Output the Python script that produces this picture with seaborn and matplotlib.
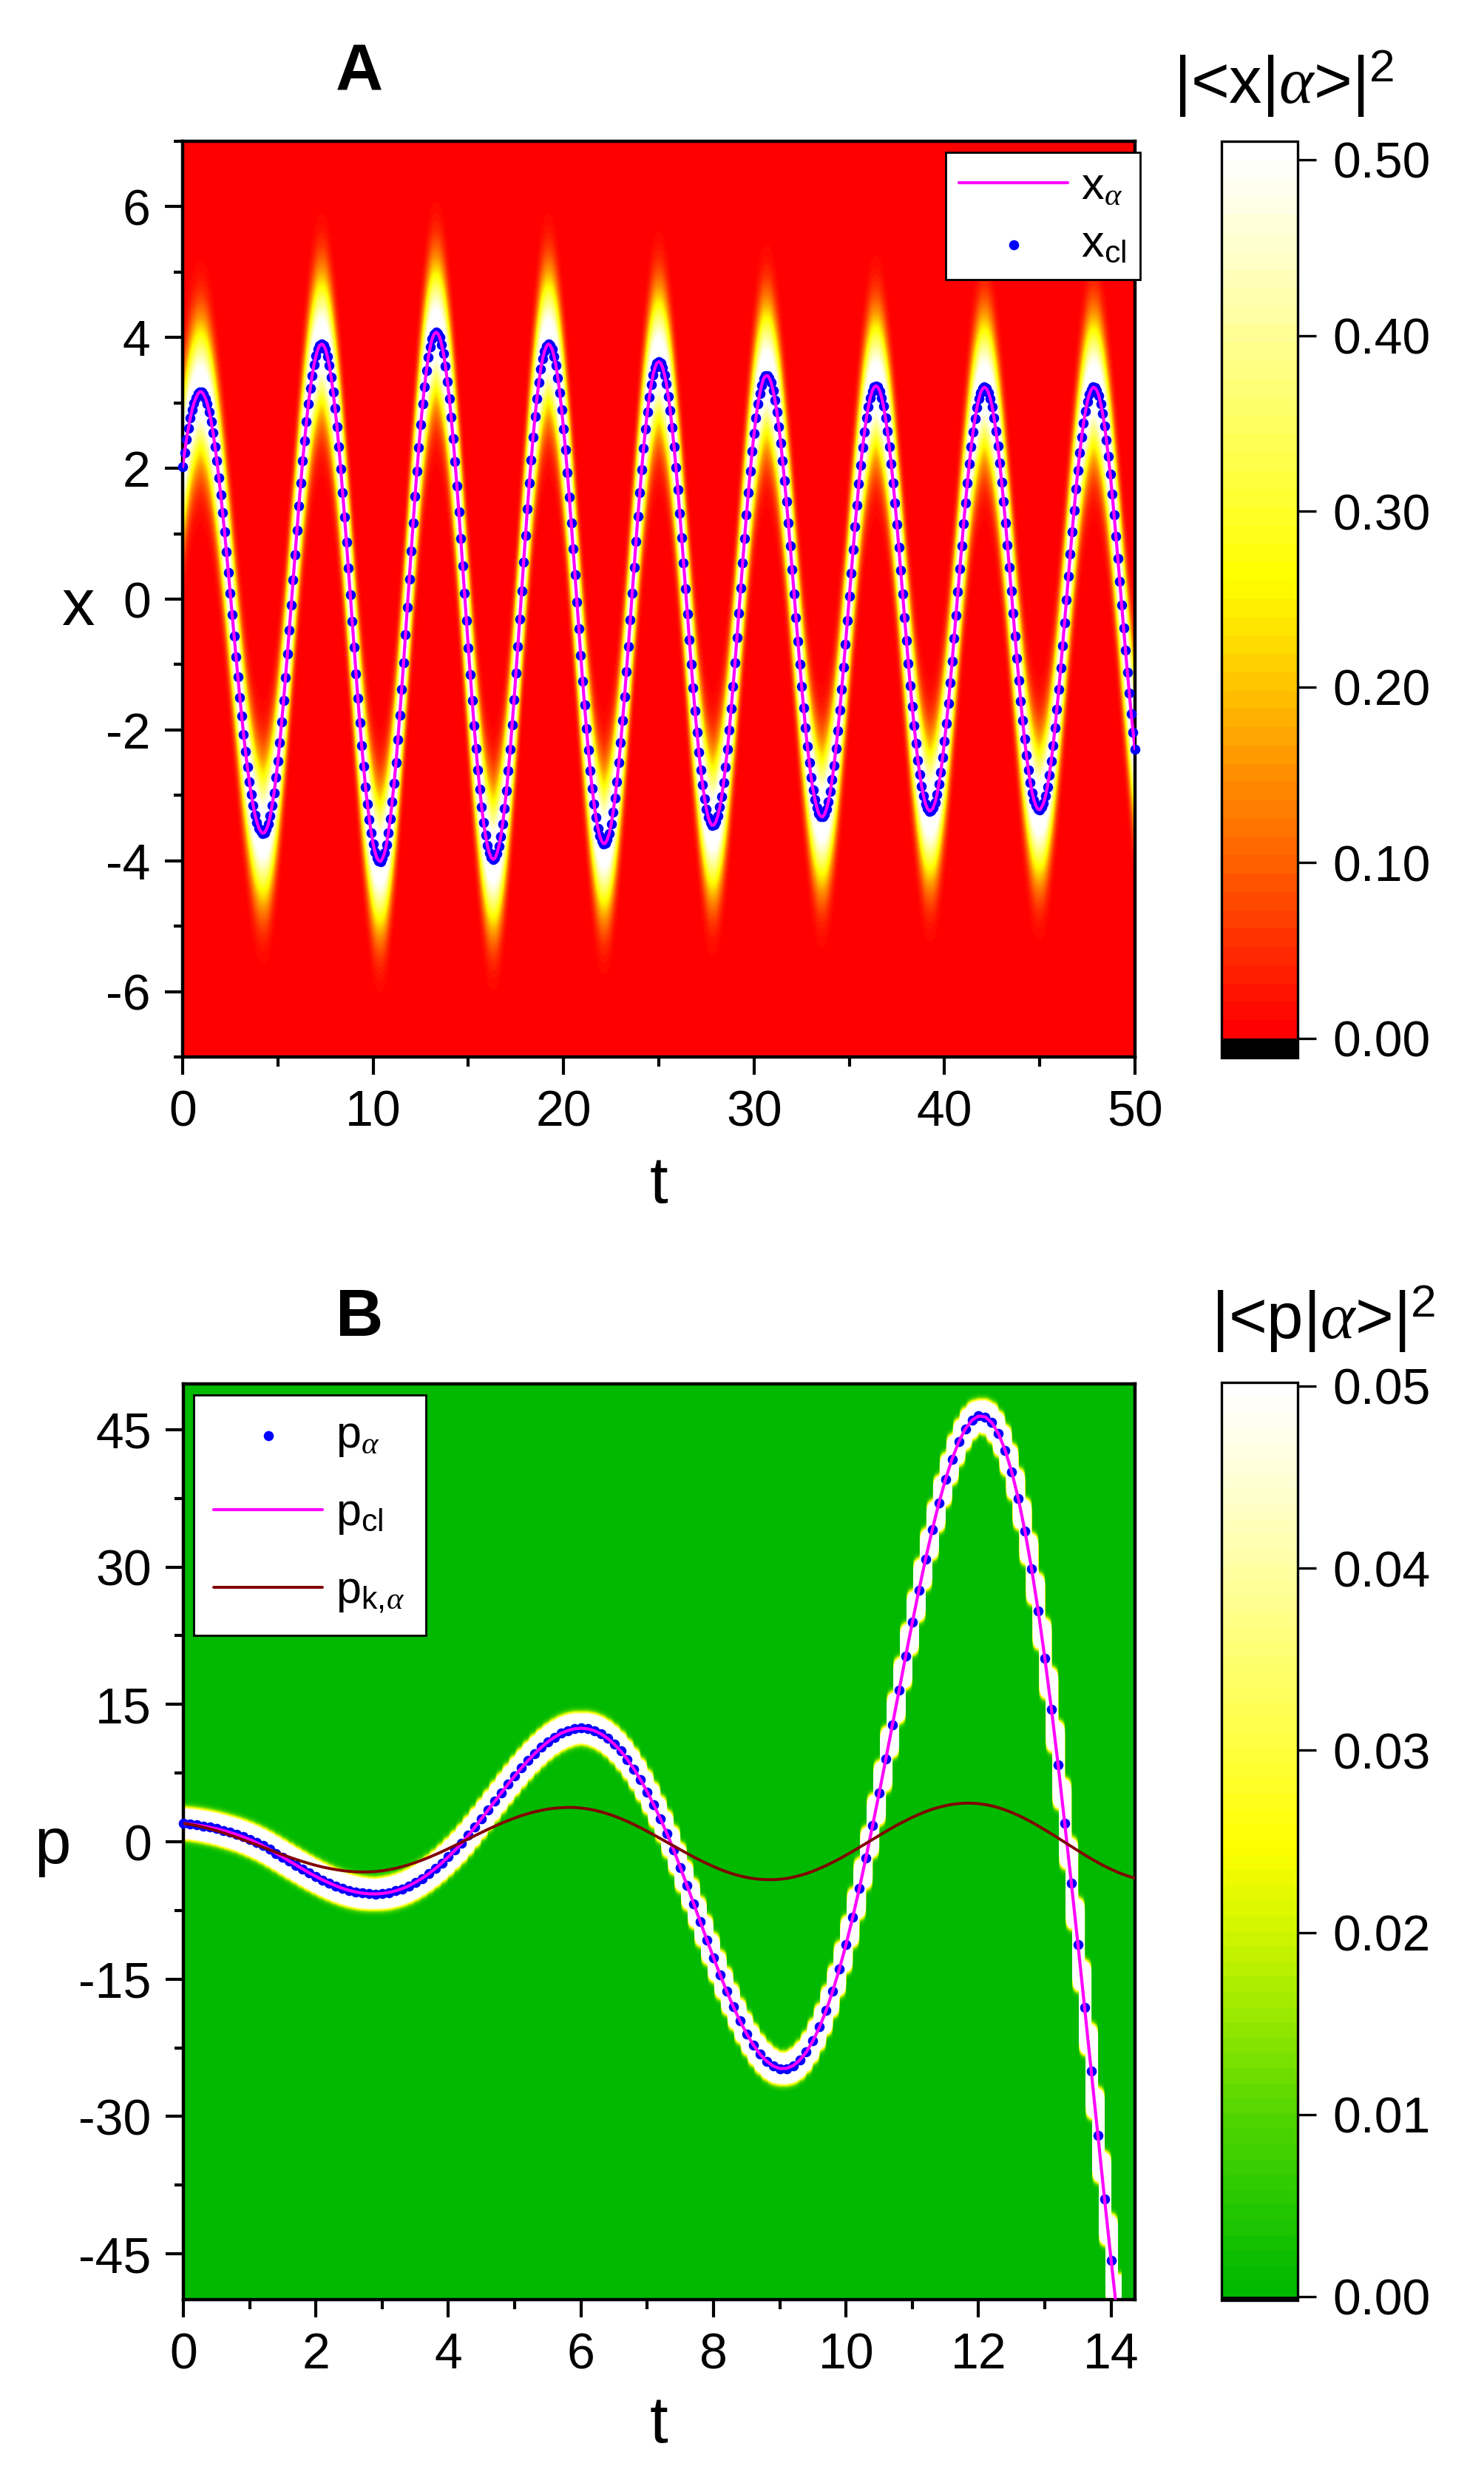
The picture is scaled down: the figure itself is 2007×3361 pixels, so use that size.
# plot.py
# wave packet densities |<x|a>|^2 and |<p|a>|^2 with the classical paths on top
import numpy as np
import pandas as pd
import seaborn as sns
import matplotlib
matplotlib.use("Agg")
import matplotlib.pyplot as plt
from matplotlib.colors import LinearSegmentedColormap, ListedColormap, Normalize
from matplotlib.ticker import MultipleLocator, FormatStrFormatter

#%% data
# panel A: one sample every 0.1 in t, from t = 0 to t = 50
T_STEP = 0.1
X_CL = [
    2.02, 2.24, 2.44, 2.61, 2.77, 2.90, 3.00, 3.08, 3.14, 3.17,
    3.17, 3.13, 3.07, 2.98, 2.86, 2.71, 2.54, 2.33, 2.11, 1.86,
    1.60, 1.32, 1.03, 0.72, 0.41, 0.09, -0.24, -0.56, -0.88, -1.19,
    -1.50, -1.79, -2.07, -2.33, -2.57, -2.79, -2.98, -3.15, -3.30, -3.41,
    -3.50, -3.55, -3.58, -3.57, -3.52, -3.44, -3.31, -3.15, -2.96, -2.73,
    -2.48, -2.19, -1.88, -1.55, -1.20, -0.84, -0.47, -0.09, 0.29, 0.68,
    1.05, 1.42, 1.77, 2.11, 2.42, 2.71, 2.98, 3.22, 3.42, 3.59,
    3.72, 3.82, 3.88, 3.90, 3.88, 3.82, 3.71, 3.57, 3.39, 3.17,
    2.92, 2.64, 2.33, 1.99, 1.63, 1.26, 0.87, 0.47, 0.07, -0.34,
    -0.74, -1.14, -1.52, -1.89, -2.24, -2.56, -2.87, -3.13, -3.37, -3.57,
    -3.74, -3.87, -3.96, -4.00, -4.01, -3.96, -3.88, -3.75, -3.57, -3.36,
    -3.10, -2.82, -2.50, -2.15, -1.77, -1.38, -0.97, -0.54, -0.12, 0.31,
    0.74, 1.16, 1.57, 1.96, 2.32, 2.67, 2.98, 3.25, 3.50, 3.70,
    3.86, 3.98, 4.05, 4.08, 4.06, 4.00, 3.89, 3.75, 3.56, 3.33,
    3.07, 2.78, 2.45, 2.10, 1.73, 1.33, 0.93, 0.51, 0.09, -0.33,
    -0.75, -1.15, -1.55, -1.93, -2.28, -2.61, -2.91, -3.18, -3.42, -3.61,
    -3.77, -3.88, -3.95, -3.98, -3.96, -3.89, -3.78, -3.63, -3.44, -3.20,
    -2.93, -2.62, -2.29, -1.92, -1.54, -1.13, -0.72, -0.30, 0.13, 0.56,
    0.97, 1.38, 1.77, 2.13, 2.48, 2.79, 3.07, 3.31, 3.52, 3.68,
    3.79, 3.87, 3.90, 3.88, 3.82, 3.71, 3.57, 3.38, 3.15, 2.89,
    2.60, 2.28, 1.93, 1.56, 1.17, 0.77, 0.37, -0.04, -0.45, -0.86,
    -1.25, -1.62, -1.98, -2.31, -2.62, -2.89, -3.13, -3.34, -3.50, -3.62,
    -3.70, -3.74, -3.73, -3.67, -3.58, -3.44, -3.26, -3.04, -2.79, -2.50,
    -2.19, -1.85, -1.49, -1.11, -0.72, -0.32, 0.09, 0.49, 0.88, 1.27,
    1.63, 1.98, 2.31, 2.60, 2.86, 3.09, 3.28, 3.43, 3.54, 3.61,
    3.63, 3.61, 3.54, 3.43, 3.29, 3.10, 2.88, 2.62, 2.33, 2.01,
    1.67, 1.31, 0.94, 0.55, 0.16, -0.23, -0.62, -1.00, -1.36, -1.71,
    -2.03, -2.34, -2.61, -2.84, -3.05, -3.21, -3.34, -3.42, -3.46, -3.45,
    -3.40, -3.31, -3.18, -3.02, -2.81, -2.57, -2.30, -2.00, -1.67, -1.33,
    -0.97, -0.59, -0.21, 0.17, 0.55, 0.93, 1.29, 1.63, 1.96, 2.26,
    2.53, 2.77, 2.98, 3.14, 3.27, 3.37, 3.41, 3.42, 3.38, 3.31,
    3.19, 3.04, 2.86, 2.64, 2.39, 2.11, 1.81, 1.49, 1.16, 0.81,
    0.45, 0.08, -0.28, -0.64, -1.00, -1.34, -1.66, -1.97, -2.25, -2.50,
    -2.73, -2.92, -3.07, -3.19, -3.28, -3.32, -3.33, -3.29, -3.21, -3.10,
    -2.94, -2.76, -2.54, -2.28, -2.01, -1.70, -1.38, -1.04, -0.69, -0.33,
    0.04, 0.40, 0.76, 1.11, 1.44, 1.76, 2.05, 2.32, 2.56, 2.77,
    2.94, 3.08, 3.18, 3.24, 3.26, 3.24, 3.18, 3.08, 2.95, 2.77,
    2.57, 2.33, 2.07, 1.78, 1.47, 1.14, 0.79, 0.44, 0.08, -0.28,
    -0.63, -0.98, -1.32, -1.64, -1.93, -2.21, -2.46, -2.68, -2.86, -3.01,
    -3.13, -3.20, -3.24, -3.23, -3.19, -3.11, -2.99, -2.83, -2.65, -2.42,
    -2.17, -1.90, -1.60, -1.28, -0.95, -0.60, -0.25, 0.11, 0.46, 0.81,
    1.15, 1.47, 1.78, 2.07, 2.33, 2.56, 2.76, 2.93, 3.06, 3.16,
    3.22, 3.24, 3.22, 3.16, 3.07, 2.94, 2.77, 2.57, 2.34, 2.08,
    1.79, 1.49, 1.17, 0.83, 0.49, 0.13, -0.22, -0.57, -0.91, -1.24,
    -1.56, -1.86, -2.14, -2.39, -2.61, -2.80, -2.96, -3.08, -3.16, -3.21,
    -3.22, -3.18, -3.12, -3.01, -2.87, -2.69, -2.48, -2.24, -1.97, -1.68,
    -1.38, -1.05, -0.71, -0.36, -0.01, 0.35, 0.69, 1.03, 1.36, 1.68,
    1.97, 2.24, 2.48, 2.69, 2.87, 3.02, 3.13, 3.20, 3.24, 3.23,
    3.19, 3.11, 2.99, 2.84, 2.65, 2.43, 2.18, 1.91, 1.61, 1.29,
    0.96, 0.62, 0.27, -0.09, -0.44, -0.78, -1.12, -1.44, -1.75, -2.03,
    -2.29,
]
# the quantum mean x_alpha sits exactly on the classical path
X_ALPHA = X_CL

# panel B: one sample every 0.1 in t, from t = 0
P_ALPHA = [
    2.00, 1.93, 1.84, 1.72, 1.58, 1.42, 1.23, 1.02, 0.80, 0.54,
    0.25, -0.07, -0.43, -0.83, -1.26, -1.69, -2.13, -2.56, -2.99, -3.40,
    -3.79, -4.16, -4.50, -4.81, -5.08, -5.31, -5.48, -5.61, -5.68, -5.70,
    -5.65, -5.54, -5.36, -5.13, -4.82, -4.44, -4.00, -3.50, -2.94, -2.32,
    -1.64, -0.92, -0.16, 0.70, 1.60, 2.53, 3.47, 4.42, 5.36, 6.29,
    7.19, 8.05, 8.86, 9.62, 10.30, 10.91, 11.42, 11.84, 12.14, 12.33,
    12.40, 12.33, 12.13, 11.79, 11.30, 10.67, 9.90, 8.99, 7.94, 6.75,
    5.44, 4.01, 2.48, 0.85, -0.92, -2.82, -4.77, -6.75, -8.74, -10.72,
    -12.66, -14.54, -16.34, -18.03, -19.58, -20.97, -22.18, -23.18, -23.96, -24.49,
    -24.77, -24.76, -24.46, -23.86, -22.96, -21.75, -20.23, -18.41, -16.28, -13.88,
    -11.20, -8.27, -5.11, -1.75, 1.75, 5.34, 9.03, 12.78, 16.54, 20.28,
    23.95, 27.50, 30.88, 34.05, 36.96, 39.56, 41.80, 43.66, 45.09, 46.04,
    46.49, 46.40, 45.77, 44.56, 42.77, 40.40, 37.45, 33.90, 29.80, 25.17,
    20.03, 14.42, 8.39, 1.98, -4.56, -11.25, -18.12, -25.08, -32.06, -38.98,
    -45.72, -52.25,
]
# classical momentum coincides with p_alpha
P_CL = P_ALPHA
P_K_ALPHA = [
    2.00, 1.89, 1.75, 1.59, 1.40, 1.20, 0.98, 0.74, 0.49, 0.22,
    -0.05, -0.32, -0.60, -0.88, -1.15, -1.42, -1.68, -1.93, -2.16, -2.38,
    -2.58, -2.76, -2.91, -3.04, -3.15, -3.23, -3.28, -3.30, -3.29, -3.25,
    -3.17, -3.05, -2.91, -2.72, -2.51, -2.27, -2.01, -1.72, -1.41, -1.09,
    -0.75, -0.40, -0.04, 0.31, 0.67, 1.02, 1.37, 1.70, 2.02, 2.32,
    2.59, 2.85, 3.07, 3.27, 3.43, 3.57, 3.66, 3.72, 3.75, 3.74,
    3.68, 3.59, 3.45, 3.27, 3.06, 2.81, 2.53, 2.22, 1.88, 1.52,
    1.14, 0.75, 0.35, -0.06, -0.47, -0.87, -1.27, -1.66, -2.03, -2.38,
    -2.71, -3.02, -3.29, -3.53, -3.73, -3.89, -4.02, -4.10, -4.14, -4.14,
    -4.10, -4.01, -3.87, -3.69, -3.48, -3.22, -2.92, -2.60, -2.24, -1.87,
    -1.46, -1.05, -0.62, -0.18, 0.25, 0.69, 1.12, 1.54, 1.94, 2.31,
    2.67, 2.99, 3.29, 3.55, 3.76, 3.94, 4.08, 4.17, 4.21, 4.21,
    4.16, 4.06, 3.92, 3.72, 3.48, 3.20, 2.88, 2.53, 2.14, 1.73,
    1.30, 0.86, 0.40, -0.07, -0.53, -0.99, -1.43, -1.86, -2.27, -2.66,
    -3.01, -3.33, -3.61, -3.85, -4.05,
]

X_TICKS_A = [0, 10, 20, 30, 40, 50]
Y_TICKS_A = [-6, -4, -2, 0, 2, 4, 6]
X_TICKS_B = [0, 2, 4, 6, 8, 10, 12, 14]
Y_TICKS_B = [-45, -30, -15, 0, 15, 30, 45]
CB_TICKS_A = [0.0, 0.1, 0.2, 0.3, 0.4, 0.5]
CB_TICKS_B = [0.0, 0.01, 0.02, 0.03, 0.04, 0.05]

#%% style
W, H, DPI = 2008, 3361, 200
FS_TICK = 24.5
FS_LABEL = 32
FS_LEGEND = 22
DOT = 24

sns.set_style("ticks")
plt.rcParams.update({
    "font.family": ["Liberation Sans", "DejaVu Sans"],
    "mathtext.fontset": "custom",
    "mathtext.rm": "Liberation Sans",
    "mathtext.it": "Liberation Serif:italic",
    "mathtext.bf": "Liberation Sans:bold",
    "mathtext.sf": "Liberation Sans",
    "axes.unicode_minus": False,
    "axes.linewidth": 1.6,
    "axes.edgecolor": "black",
    "text.color": "black",
    "axes.labelcolor": "black",
    "xtick.color": "black",
    "ytick.color": "black",
})

VMAX_A = 0.5105
VMAX_B = 0.0502
stops_a = [(0.0, "#ff0000"), (0.05, "#ff3000"), (0.10, "#ff6400"), (0.15, "#ff9100"),
           (0.20, "#ffc400"), (0.25, "#fff500"), (0.265, "#ffff00"), (0.30, "#ffff28"),
           (0.35, "#ffff5f"), (0.40, "#ffff91"), (0.45, "#ffffc8"), (0.50, "#fffffa"),
           (VMAX_A, "#ffffff")]
stops_b = [(0.0, "#00b900"), (0.005, "#28c800"), (0.010, "#55d700"), (0.015, "#96e800"),
           (0.020, "#d2f500"), (0.0248, "#ffff00"), (0.030, "#ffff3c"), (0.035, "#ffff6e"),
           (0.040, "#ffffa0"), (0.045, "#ffffd2"), (VMAX_B, "#ffffff")]


def banded(stops, vmax, n):
    smooth = LinearSegmentedColormap.from_list("s", [(v / vmax, c) for v, c in stops])
    cmap = ListedColormap(smooth(np.linspace(0, 1, n)))
    cmap.set_under("black")
    cmap.set_over("white")
    return cmap


def packet(centres, grid):
    # gaussian |psi|^2 of unit width around each sample, stretched over
    # the distance the centre moves within one sample step
    c = np.asarray(centres, dtype=float)
    half = np.abs(np.gradient(c)) / 2
    d = np.clip(np.abs(grid[:, None] - c[None, :]) - half[None, :], 0, None)
    return np.exp(-d ** 2) / np.sqrt(np.pi)


def box(l, t, r, b):
    return [l / W, 1 - b / H, (r - l) / W, (b - t) / H]


def style_axis(ax):
    ax.tick_params(which="both", direction="out", top=False, right=False,
                   labelsize=FS_TICK, width=1.5, pad=7, colors="black")
    ax.tick_params(which="major", length=8.6)
    ax.tick_params(which="minor", length=4.5)
    for s in ax.spines.values():
        s.set_linewidth(1.6)


def style_cbar(cb, ticks):
    cb.set_ticks(ticks)
    cb.ax.yaxis.set_major_formatter(FormatStrFormatter("%.2f"))
    cb.ax.minorticks_off()
    cb.ax.tick_params(labelsize=FS_TICK, length=9, width=1.2, pad=8, direction="out")
    cb.outline.set_linewidth(1.2)


def legend_box(ax, handles, labels, left, top, **kw):
    leg = ax.legend(handles, labels, loc="upper left",
                    bbox_to_anchor=(left / W, 1 - top / H), bbox_transform=fig.transFigure,
                    borderaxespad=0, fancybox=False, framealpha=1, edgecolor="black",
                    fontsize=FS_LEGEND, handlelength=2.4, handletextpad=0.3,
                    markerscale=1.0, **kw)
    leg.get_frame().set_linewidth(1.0)
    return leg


fig = plt.figure(figsize=(W / DPI, H / DPI), dpi=DPI)
ax_a = fig.add_axes(box(247, 191, 1535, 1429))
cax_a = fig.add_axes(box(1652, 191, 1755, 1430))
ax_b = fig.add_axes(box(248, 1871, 1535, 3109))
cax_b = fig.add_axes(box(1652, 1869, 1755, 3110))

#%% panel A
t_a = np.arange(len(X_CL)) * T_STEP
df_a = pd.DataFrame({"t": t_a, "x_cl": X_CL, "x_alpha": X_ALPHA})
x_grid = np.linspace(-7, 7, 841)
im_a = ax_a.imshow(packet(X_CL, x_grid), origin="lower", aspect="auto",
                   extent=[t_a[0] - T_STEP / 2, t_a[-1] + T_STEP / 2, -7, 7],
                   cmap=banded(stops_a, VMAX_A, 49), norm=Normalize(0, VMAX_A),
                   interpolation="bilinear", interpolation_stage="data", zorder=0)
sns.scatterplot(data=df_a, x="t", y="x_cl", ax=ax_a, color="#0000ff", s=DOT,
                linewidth=0, label=r"x$_\mathrm{cl}$", zorder=3, clip_on=False)
sns.lineplot(data=df_a, x="t", y="x_alpha", ax=ax_a, color="#ff00ff", lw=1.5,
             sort=False, estimator=None, label=r"x$_{\mathit{α}}$", zorder=4)

ax_a.set_xlim(0, 50)
ax_a.set_ylim(-7, 7)
ax_a.set_xticks(X_TICKS_A)
ax_a.set_yticks(Y_TICKS_A)
ax_a.xaxis.set_minor_locator(MultipleLocator(5))
ax_a.yaxis.set_minor_locator(MultipleLocator(1))
style_axis(ax_a)
ax_a.set_xlabel("t", fontsize=FS_LABEL, va="center")
ax_a.set_ylabel("x", fontsize=FS_LABEL, rotation=0, ha="center", va="center")
ax_a.xaxis.set_label_coords(0.5, -0.1405)
ax_a.yaxis.set_label_coords(-0.109, 0.49)

h, l = ax_a.get_legend_handles_labels()
legend_box(ax_a, [h[1], h[0]], [l[1], l[0]], 1279, 206, borderpad=0.3, labelspacing=0.35)

cb_a = fig.colorbar(im_a, cax=cax_a, extend="min", extendrect=True, extendfrac=26 / 1212)
style_cbar(cb_a, CB_TICKS_A)

#%% panel B
t_b = np.arange(len(P_ALPHA)) * T_STEP
t_k = np.arange(len(P_K_ALPHA)) * T_STEP
df_b = pd.DataFrame({"t": t_b, "p_alpha": P_ALPHA, "p_cl": P_CL})
df_k = pd.DataFrame({"t": t_k, "p_k": P_K_ALPHA})
p_grid = np.linspace(-50, 50, 2001)
ax_b.set_facecolor(stops_b[0][1])
im_b = ax_b.imshow(packet(P_ALPHA, p_grid), origin="lower", aspect="auto",
                   extent=[t_b[0] - T_STEP / 2, t_b[-1] + T_STEP / 2, -50, 50],
                   cmap=banded(stops_b, VMAX_B, 60), norm=Normalize(0, VMAX_B),
                   interpolation="bilinear", interpolation_stage="data", zorder=0)
sns.scatterplot(data=df_b[df_b["p_alpha"] >= -50], x="t", y="p_alpha", ax=ax_b,
                color="#0000ff", s=DOT, linewidth=0, label=r"p$_{\mathit{α}}$",
                zorder=3, clip_on=False)
sns.lineplot(data=df_b, x="t", y="p_cl", ax=ax_b, color="#ff00ff", lw=1.5,
             sort=False, estimator=None, label=r"p$_\mathrm{cl}$", zorder=4)
sns.lineplot(data=df_k, x="t", y="p_k", ax=ax_b, color="#800000", lw=1.4,
             sort=False, estimator=None, label=r"p$_{\mathrm{k},\!\mathit{α}}$", zorder=4)

ax_b.set_xlim(0, 14.36)
ax_b.set_ylim(-50, 50)
ax_b.set_xticks(X_TICKS_B)
ax_b.set_yticks(Y_TICKS_B)
ax_b.xaxis.set_minor_locator(MultipleLocator(1))
ax_b.yaxis.set_minor_locator(MultipleLocator(7.5))
style_axis(ax_b)
ax_b.set_xlabel("t", fontsize=FS_LABEL, va="center")
ax_b.set_ylabel("p", fontsize=FS_LABEL, rotation=0, ha="center", va="center")
ax_b.xaxis.set_label_coords(0.5, -0.137)
ax_b.yaxis.set_label_coords(-0.1375, 0.495)

h, l = ax_b.get_legend_handles_labels()
legend_box(ax_b, h, l, 262, 1886, borderpad=0.45, labelspacing=0.75)

cb_b = fig.colorbar(im_b, cax=cax_b, extend="min", extendrect=True, extendfrac=5 / 1232)
style_cbar(cb_b, CB_TICKS_B)

#%% titles
fig.text(486 / W, 1 - 100 / H, "A", fontsize=32, fontweight="bold", ha="center", va="center")
fig.text(486 / W, 1 - 1783 / H, "B", fontsize=32, fontweight="bold", ha="center", va="center")
fig.text(1736 / W, 1 - 113 / H, r"|<x|$\mathit{α}$>|$^2$", fontsize=32, ha="center", va="center")
fig.text(1790 / W, 1 - 1783 / H, r"|<p|$\mathit{α}$>|$^2$", fontsize=32, ha="center", va="center")

fig.savefig("out.png", dpi=DPI)
